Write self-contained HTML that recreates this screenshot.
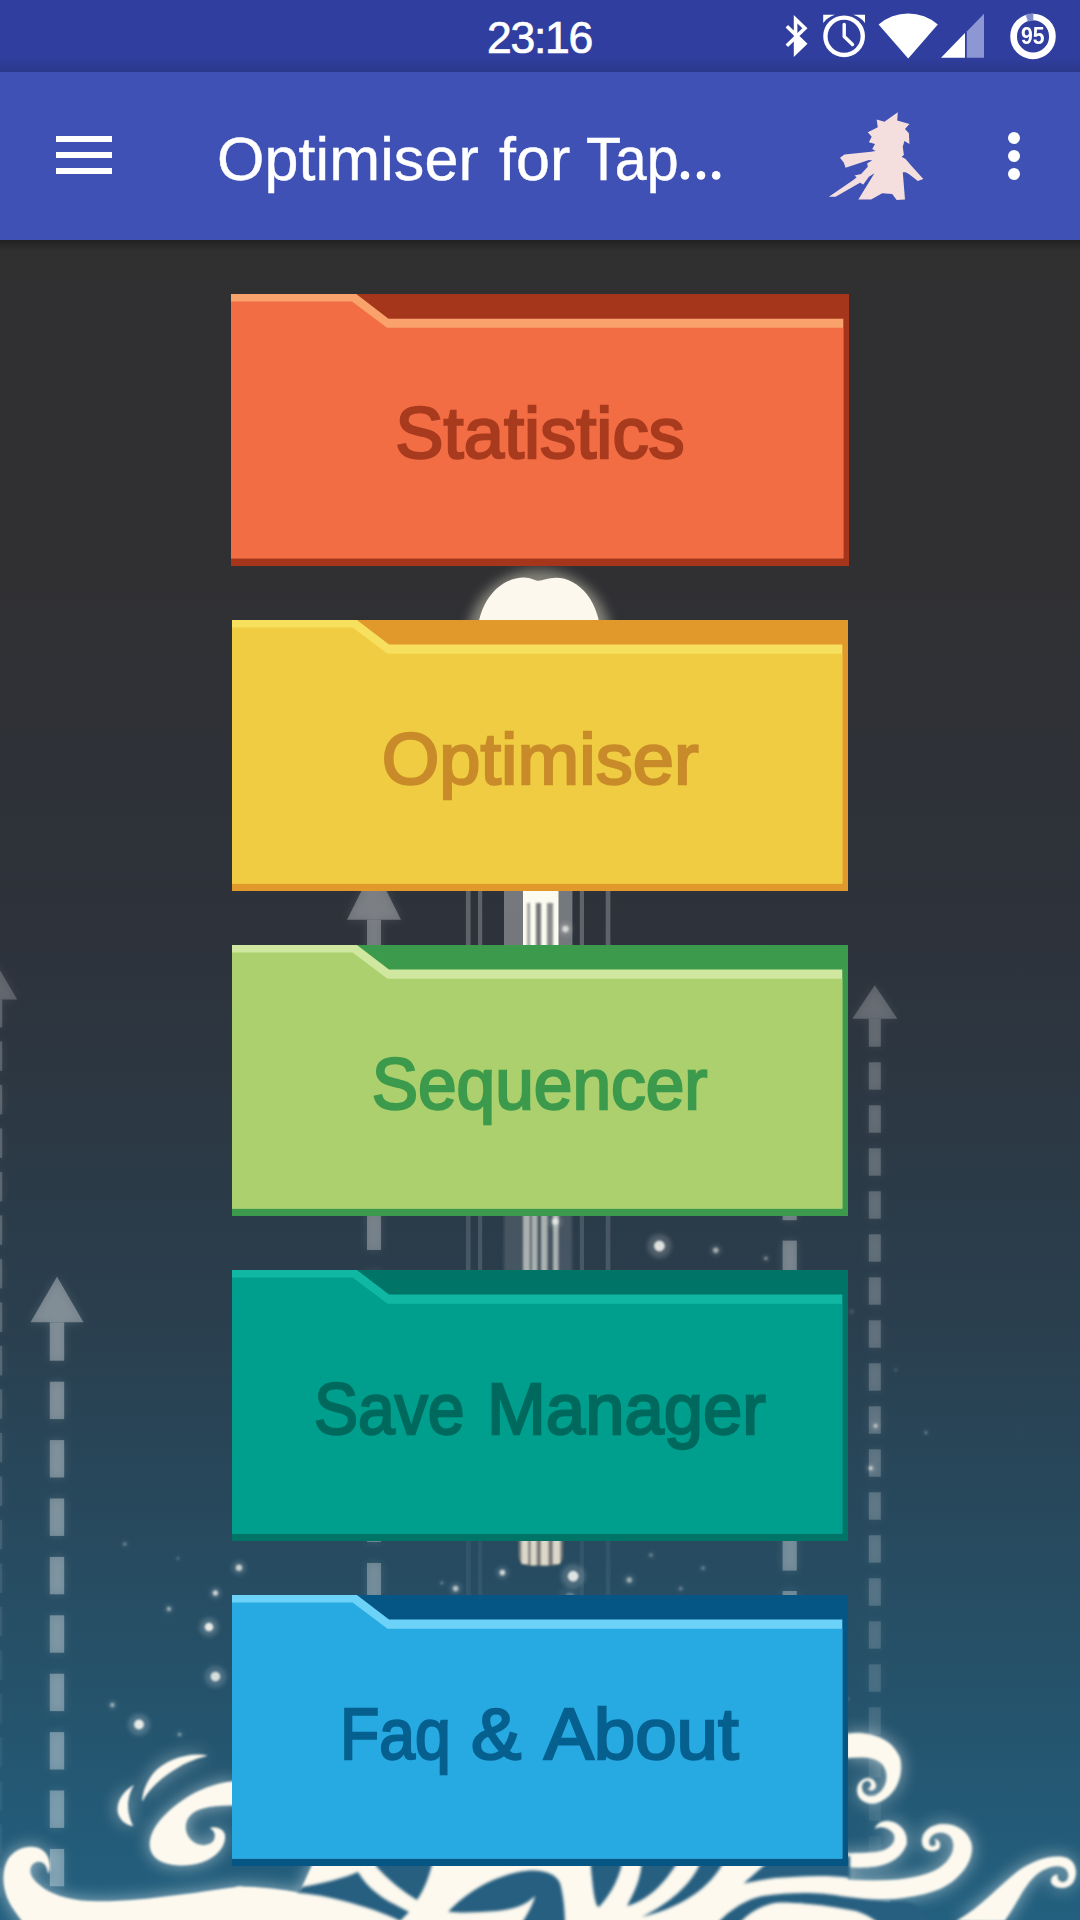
<!DOCTYPE html>
<html>
<head>
<meta charset="utf-8">
<title>Optimiser for Tap Titans</title>
<style>
html,body{margin:0;padding:0;}
body{width:1080px;height:1920px;overflow:hidden;position:relative;background:#303030;font-family:"Liberation Sans",sans-serif;}
#bg{position:absolute;left:0;top:0;width:1080px;height:1920px;}
#status{position:absolute;left:0;top:0;width:1080px;height:72px;background:#303f9f;}
#status .shade{position:absolute;left:0;top:56px;width:1080px;height:16px;background:linear-gradient(to bottom,rgba(0,0,0,0),rgba(0,0,0,0.12));}
#clock{position:absolute;left:439.5px;width:200px;top:14px;height:48px;line-height:48px;text-align:center;color:#fff;font-size:44.5px;letter-spacing:-1.3px;-webkit-text-stroke:0.7px #fff;}
#appbar{position:absolute;left:0;top:72px;width:1080px;height:168px;background:#3f51b5;}
#barshadow{position:absolute;left:0;top:240px;width:1080px;height:11px;background:linear-gradient(to bottom,rgba(0,0,0,0.30),rgba(0,0,0,0));}
#title{position:absolute;left:217px;top:120.5px;height:76px;line-height:76px;color:#fff;font-size:61px;letter-spacing:0.1px;word-spacing:3px;-webkit-text-stroke:0.45px #fff;white-space:nowrap;}
.ham{position:absolute;left:56px;width:56px;height:6px;background:#fff;}
.dot{position:absolute;left:1008px;width:12px;height:12px;border-radius:50%;background:#fff;}
.folder{position:absolute;left:231px;width:618px;height:272px;}
.folder svg{position:absolute;left:0;top:0;}
.folder .lbl{position:absolute;left:0;width:618px;top:94px;height:90px;line-height:90px;text-align:center;font-weight:normal;font-size:73px;-webkit-text-stroke:2.4px currentColor;white-space:nowrap;}
.folder .lbl span{display:inline-block;transform-origin:50% 50%;}
.folder .lbl span.w{position:absolute;top:0;transform-origin:0 50%;}
</style>
</head>
<body>
<svg id="bg" width="1080" height="1920" viewBox="0 0 1080 1920">
  <defs>
    <linearGradient id="bgg" x1="0" y1="0" x2="0" y2="1">
      <stop offset="0" stop-color="#303030"/>
      <stop offset="0.30" stop-color="#303033"/>
      <stop offset="0.50" stop-color="#2d333c"/>
      <stop offset="0.68" stop-color="#2a3e4d"/>
      <stop offset="0.85" stop-color="#264f66"/>
      <stop offset="1" stop-color="#22607f"/>
    </linearGradient>
  </defs>
  <rect x="0" y="0" width="1080" height="1920" fill="url(#bgg)"/>
  <!--BGDETAIL-->
<defs>
<filter id="blur5" x="-50%" y="-5%" width="200%" height="110%"><feGaussianBlur stdDeviation="5"/></filter>
<filter id="blur3" x="-50%" y="-50%" width="200%" height="200%"><feGaussianBlur stdDeviation="3"/></filter>
<filter id="blur8" x="-50%" y="-50%" width="200%" height="200%"><feGaussianBlur stdDeviation="9"/></filter>
<filter id="blur6" x="-50%" y="-50%" width="200%" height="200%"><feGaussianBlur stdDeviation="6"/></filter>
<filter id="blur2" x="-50%" y="-50%" width="200%" height="200%"><feGaussianBlur stdDeviation="1.8"/></filter>
<filter id="blur07" x="-100%" y="-100%" width="300%" height="300%"><feGaussianBlur stdDeviation="0.8"/></filter>
<filter id="blur1" x="-50%" y="-50%" width="200%" height="200%"><feGaussianBlur stdDeviation="1.2"/></filter>
<filter id="sblur" x="-100%" y="-100%" width="300%" height="300%"><feGaussianBlur stdDeviation="2.2"/></filter>
<linearGradient id="beamfade" x1="0" y1="0" x2="0" y2="1"><stop offset="0" stop-color="#fff" stop-opacity="1"/><stop offset="1" stop-color="#fff" stop-opacity="0.25"/></linearGradient>
</defs>
<g fill="#fff" opacity="0.077" filter="url(#blur5)"><polygon points="-4.8,962 17.2,999.4 -26.8,999.4"/><rect x="-11.8" y="999.4" width="14" height="28"/><rect x="-11.8" y="1041.4" width="14" height="29.5" opacity="1.00"/><rect x="-11.8" y="1084.9" width="14" height="29.5" opacity="1.00"/><rect x="-11.8" y="1128.4" width="14" height="29.5" opacity="1.00"/><rect x="-11.8" y="1171.9" width="14" height="29.5" opacity="1.00"/><rect x="-11.8" y="1215.4" width="14" height="29.5" opacity="1.00"/><rect x="-11.8" y="1258.9" width="14" height="29.5" opacity="1.00"/><rect x="-11.8" y="1302.4" width="14" height="29.5" opacity="1.00"/><rect x="-11.8" y="1345.9" width="14" height="29.5" opacity="0.91"/><rect x="-11.8" y="1389.4" width="14" height="29.5" opacity="0.82"/><rect x="-11.8" y="1432.9" width="14" height="29.5" opacity="0.73"/><rect x="-11.8" y="1476.4" width="14" height="29.5" opacity="0.65"/><rect x="-11.8" y="1519.9" width="14" height="29.5" opacity="0.56"/><rect x="-11.8" y="1563.4" width="14" height="29.5" opacity="0.47"/><rect x="-11.8" y="1606.9" width="14" height="29.5" opacity="0.39"/><rect x="-11.8" y="1650.4" width="14" height="29.5" opacity="0.30"/><rect x="-11.8" y="1693.9" width="14" height="29.5" opacity="0.25"/><rect x="-11.8" y="1737.4" width="14" height="29.5" opacity="0.25"/><rect x="-11.8" y="1780.9" width="14" height="29.5" opacity="0.25"/><rect x="-11.8" y="1824.4" width="14" height="29.5" opacity="0.25"/><rect x="-11.8" y="1867.9" width="14" height="29.5" opacity="0.25"/></g><g fill="#fff" opacity="0.194"><polygon points="-4.8,962 17.2,999.4 -26.8,999.4"/><rect x="-11.8" y="999.4" width="14" height="28"/><rect x="-11.8" y="1041.4" width="14" height="29.5" opacity="1.00"/><rect x="-11.8" y="1084.9" width="14" height="29.5" opacity="1.00"/><rect x="-11.8" y="1128.4" width="14" height="29.5" opacity="1.00"/><rect x="-11.8" y="1171.9" width="14" height="29.5" opacity="1.00"/><rect x="-11.8" y="1215.4" width="14" height="29.5" opacity="1.00"/><rect x="-11.8" y="1258.9" width="14" height="29.5" opacity="1.00"/><rect x="-11.8" y="1302.4" width="14" height="29.5" opacity="1.00"/><rect x="-11.8" y="1345.9" width="14" height="29.5" opacity="0.91"/><rect x="-11.8" y="1389.4" width="14" height="29.5" opacity="0.82"/><rect x="-11.8" y="1432.9" width="14" height="29.5" opacity="0.73"/><rect x="-11.8" y="1476.4" width="14" height="29.5" opacity="0.65"/><rect x="-11.8" y="1519.9" width="14" height="29.5" opacity="0.56"/><rect x="-11.8" y="1563.4" width="14" height="29.5" opacity="0.47"/><rect x="-11.8" y="1606.9" width="14" height="29.5" opacity="0.39"/><rect x="-11.8" y="1650.4" width="14" height="29.5" opacity="0.30"/><rect x="-11.8" y="1693.9" width="14" height="29.5" opacity="0.25"/><rect x="-11.8" y="1737.4" width="14" height="29.5" opacity="0.25"/><rect x="-11.8" y="1780.9" width="14" height="29.5" opacity="0.25"/><rect x="-11.8" y="1824.4" width="14" height="29.5" opacity="0.25"/><rect x="-11.8" y="1867.9" width="14" height="29.5" opacity="0.25"/></g>
<g fill="#fff" opacity="0.130" filter="url(#blur5)"><polygon points="57,1276.8 83.5,1322.3 30.5,1322.3"/><rect x="49.8" y="1322.3" width="14.4" height="38.4"/><rect x="49.8" y="1381.7" width="14.4" height="37.4" opacity="1.00"/><rect x="49.8" y="1440.1" width="14.4" height="37.4" opacity="1.00"/><rect x="49.8" y="1498.5" width="14.4" height="37.4" opacity="1.00"/><rect x="49.8" y="1556.9" width="14.4" height="37.4" opacity="1.00"/><rect x="49.8" y="1615.3" width="14.4" height="37.4" opacity="1.00"/><rect x="49.8" y="1673.7" width="14.4" height="37.4" opacity="1.00"/><rect x="49.8" y="1732.1" width="14.4" height="37.4" opacity="1.00"/><rect x="49.8" y="1790.5" width="14.4" height="37.4" opacity="1.00"/><rect x="49.8" y="1848.9" width="14.4" height="37.4" opacity="1.00"/></g><g fill="#fff" opacity="0.326"><polygon points="57,1276.8 83.5,1322.3 30.5,1322.3"/><rect x="49.8" y="1322.3" width="14.4" height="38.4"/><rect x="49.8" y="1381.7" width="14.4" height="37.4" opacity="1.00"/><rect x="49.8" y="1440.1" width="14.4" height="37.4" opacity="1.00"/><rect x="49.8" y="1498.5" width="14.4" height="37.4" opacity="1.00"/><rect x="49.8" y="1556.9" width="14.4" height="37.4" opacity="1.00"/><rect x="49.8" y="1615.3" width="14.4" height="37.4" opacity="1.00"/><rect x="49.8" y="1673.7" width="14.4" height="37.4" opacity="1.00"/><rect x="49.8" y="1732.1" width="14.4" height="37.4" opacity="1.00"/><rect x="49.8" y="1790.5" width="14.4" height="37.4" opacity="1.00"/><rect x="49.8" y="1848.9" width="14.4" height="37.4" opacity="1.00"/></g>
<g fill="#fff" opacity="0.115" filter="url(#blur5)"><polygon points="374,866 401,919.7 347,919.7"/><rect x="367" y="919.7" width="14" height="38.3"/><rect x="367" y="979.0" width="14" height="37.4" opacity="1.00"/><rect x="367" y="1037.4" width="14" height="37.4" opacity="1.00"/><rect x="367" y="1095.8" width="14" height="37.4" opacity="1.00"/><rect x="367" y="1154.2" width="14" height="37.4" opacity="1.00"/><rect x="367" y="1212.6" width="14" height="37.4" opacity="1.00"/><rect x="367" y="1271.0" width="14" height="37.4" opacity="1.00"/><rect x="367" y="1329.4" width="14" height="37.4" opacity="1.00"/><rect x="367" y="1387.8" width="14" height="37.4" opacity="1.00"/><rect x="367" y="1446.2" width="14" height="37.4" opacity="1.00"/><rect x="367" y="1504.6" width="14" height="37.4" opacity="1.00"/><rect x="367" y="1563.0" width="14" height="37.4" opacity="1.00"/></g><g fill="#fff" opacity="0.290"><polygon points="374,866 401,919.7 347,919.7"/><rect x="367" y="919.7" width="14" height="38.3"/><rect x="367" y="979.0" width="14" height="37.4" opacity="1.00"/><rect x="367" y="1037.4" width="14" height="37.4" opacity="1.00"/><rect x="367" y="1095.8" width="14" height="37.4" opacity="1.00"/><rect x="367" y="1154.2" width="14" height="37.4" opacity="1.00"/><rect x="367" y="1212.6" width="14" height="37.4" opacity="1.00"/><rect x="367" y="1271.0" width="14" height="37.4" opacity="1.00"/><rect x="367" y="1329.4" width="14" height="37.4" opacity="1.00"/><rect x="367" y="1387.8" width="14" height="37.4" opacity="1.00"/><rect x="367" y="1446.2" width="14" height="37.4" opacity="1.00"/><rect x="367" y="1504.6" width="14" height="37.4" opacity="1.00"/><rect x="367" y="1563.0" width="14" height="37.4" opacity="1.00"/></g>
<g fill="#fff" opacity="0.082" filter="url(#blur5)"><polygon points="874.8,985.2 897.3,1018.7 852.3,1018.7"/><rect x="868.8" y="1018.7" width="12" height="28"/><rect x="868.8" y="1062.3" width="12" height="27.4" opacity="1.00"/><rect x="868.8" y="1105.3" width="12" height="27.4" opacity="1.00"/><rect x="868.8" y="1148.3" width="12" height="27.4" opacity="1.00"/><rect x="868.8" y="1191.3" width="12" height="27.4" opacity="1.00"/><rect x="868.8" y="1234.3" width="12" height="27.4" opacity="1.00"/><rect x="868.8" y="1277.3" width="12" height="27.4" opacity="1.00"/><rect x="868.8" y="1320.3" width="12" height="27.4" opacity="1.00"/><rect x="868.8" y="1363.3" width="12" height="27.4" opacity="1.00"/><rect x="868.8" y="1406.3" width="12" height="27.4" opacity="1.00"/><rect x="868.8" y="1449.3" width="12" height="27.4" opacity="1.00"/><rect x="868.8" y="1492.3" width="12" height="27.4" opacity="1.00"/><rect x="868.8" y="1535.3" width="12" height="27.4" opacity="0.92"/><rect x="868.8" y="1578.3" width="12" height="27.4" opacity="0.83"/><rect x="868.8" y="1621.3" width="12" height="27.4" opacity="0.73"/><rect x="868.8" y="1664.3" width="12" height="27.4" opacity="0.63"/><rect x="868.8" y="1707.3" width="12" height="27.4" opacity="0.54"/><rect x="868.8" y="1750.3" width="12" height="27.4" opacity="0.44"/><rect x="868.8" y="1793.3" width="12" height="27.4" opacity="0.35"/><rect x="868.8" y="1836.3" width="12" height="27.4" opacity="0.25"/><rect x="868.8" y="1879.3" width="12" height="27.4" opacity="0.25"/></g><g fill="#fff" opacity="0.207"><polygon points="874.8,985.2 897.3,1018.7 852.3,1018.7"/><rect x="868.8" y="1018.7" width="12" height="28"/><rect x="868.8" y="1062.3" width="12" height="27.4" opacity="1.00"/><rect x="868.8" y="1105.3" width="12" height="27.4" opacity="1.00"/><rect x="868.8" y="1148.3" width="12" height="27.4" opacity="1.00"/><rect x="868.8" y="1191.3" width="12" height="27.4" opacity="1.00"/><rect x="868.8" y="1234.3" width="12" height="27.4" opacity="1.00"/><rect x="868.8" y="1277.3" width="12" height="27.4" opacity="1.00"/><rect x="868.8" y="1320.3" width="12" height="27.4" opacity="1.00"/><rect x="868.8" y="1363.3" width="12" height="27.4" opacity="1.00"/><rect x="868.8" y="1406.3" width="12" height="27.4" opacity="1.00"/><rect x="868.8" y="1449.3" width="12" height="27.4" opacity="1.00"/><rect x="868.8" y="1492.3" width="12" height="27.4" opacity="1.00"/><rect x="868.8" y="1535.3" width="12" height="27.4" opacity="0.92"/><rect x="868.8" y="1578.3" width="12" height="27.4" opacity="0.83"/><rect x="868.8" y="1621.3" width="12" height="27.4" opacity="0.73"/><rect x="868.8" y="1664.3" width="12" height="27.4" opacity="0.63"/><rect x="868.8" y="1707.3" width="12" height="27.4" opacity="0.54"/><rect x="868.8" y="1750.3" width="12" height="27.4" opacity="0.44"/><rect x="868.8" y="1793.3" width="12" height="27.4" opacity="0.35"/><rect x="868.8" y="1836.3" width="12" height="27.4" opacity="0.25"/><rect x="868.8" y="1879.3" width="12" height="27.4" opacity="0.25"/></g>
<g fill="#fff" opacity="0.119" filter="url(#blur5)"><polygon points="789.7,960.6 816.7,1006.6 762.7,1006.6"/><rect x="782.6" y="1006.6" width="14.2" height="38.4"/><rect x="782.6" y="1065.4" width="14.2" height="38.0" opacity="1.00"/><rect x="782.6" y="1123.8" width="14.2" height="38.0" opacity="1.00"/><rect x="782.6" y="1182.2" width="14.2" height="38.0" opacity="1.00"/><rect x="782.6" y="1240.6" width="14.2" height="38.0" opacity="1.00"/><rect x="782.6" y="1299.0" width="14.2" height="38.0" opacity="1.00"/><rect x="782.6" y="1357.4" width="14.2" height="38.0" opacity="1.00"/><rect x="782.6" y="1415.8" width="14.2" height="38.0" opacity="1.00"/><rect x="782.6" y="1474.2" width="14.2" height="38.0" opacity="1.00"/><rect x="782.6" y="1532.6" width="14.2" height="38.0" opacity="1.00"/><rect x="782.6" y="1591.0" width="14.2" height="38.0" opacity="1.00"/></g><g fill="#fff" opacity="0.299"><polygon points="789.7,960.6 816.7,1006.6 762.7,1006.6"/><rect x="782.6" y="1006.6" width="14.2" height="38.4"/><rect x="782.6" y="1065.4" width="14.2" height="38.0" opacity="1.00"/><rect x="782.6" y="1123.8" width="14.2" height="38.0" opacity="1.00"/><rect x="782.6" y="1182.2" width="14.2" height="38.0" opacity="1.00"/><rect x="782.6" y="1240.6" width="14.2" height="38.0" opacity="1.00"/><rect x="782.6" y="1299.0" width="14.2" height="38.0" opacity="1.00"/><rect x="782.6" y="1357.4" width="14.2" height="38.0" opacity="1.00"/><rect x="782.6" y="1415.8" width="14.2" height="38.0" opacity="1.00"/><rect x="782.6" y="1474.2" width="14.2" height="38.0" opacity="1.00"/><rect x="782.6" y="1532.6" width="14.2" height="38.0" opacity="1.00"/><rect x="782.6" y="1591.0" width="14.2" height="38.0" opacity="1.00"/></g>
<ellipse cx="539" cy="640" rx="72" ry="70" fill="#f4f2d8" opacity="0.42" filter="url(#blur6)"/>
<path d="M477,640 C477,600 501,577.5 524,577.5 C531,577.5 535,580.8 538.7,580.8 C542.5,580.8 548,577.8 556,577.8 C579,577.8 601,602 601,640 Z" fill="#fdf8ee"/>
<rect x="465.9" y="640" width="4.7" height="310" fill="#fff" opacity="0.24"/><rect x="478" y="640" width="4.2" height="310" fill="#fff" opacity="0.24"/><rect x="579.8" y="640" width="4.2" height="310" fill="#fff" opacity="0.24"/><rect x="605.7" y="640" width="4.7" height="310" fill="#fff" opacity="0.24"/>
<rect x="504" y="640" width="68.4" height="310" fill="#fff" opacity="0.34"/>
<rect x="523" y="640" width="35.5" height="310" fill="#fbfbf0"/>
<g filter="url(#blur1)"><rect x="527.3" y="903" width="2.7" height="50" fill="#9a9c98"/><rect x="536" y="903" width="5" height="50" fill="#74767a"/><rect x="547" y="903" width="6" height="50" fill="#8a8c8c"/></g>
<rect x="465.9" y="1205" width="4.7" height="75" fill="#fff" opacity="0.14"/><rect x="478" y="1205" width="4.2" height="75" fill="#fff" opacity="0.14"/><rect x="579.8" y="1205" width="4.2" height="75" fill="#fff" opacity="0.14"/><rect x="605.7" y="1205" width="4.7" height="75" fill="#fff" opacity="0.14"/>
<rect x="504" y="1205" width="68" height="75" fill="#fff" opacity="0.13" filter="url(#blur2)"/>
<g filter="url(#blur1)" fill="#c3c7c3" opacity="0.8"><rect x="523" y="1205" width="7" height="75"/><rect x="531.5" y="1205" width="6" height="75"/><rect x="541" y="1205" width="6.5" height="75"/><rect x="553" y="1205" width="5.5" height="75"/></g>
<rect x="465.9" y="1530" width="4.7" height="70" fill="#fff" opacity="0.06"/><rect x="478" y="1530" width="4.2" height="70" fill="#fff" opacity="0.06"/><rect x="579.8" y="1530" width="4.2" height="70" fill="#fff" opacity="0.06"/><rect x="605.7" y="1530" width="4.7" height="70" fill="#fff" opacity="0.06"/>
<g filter="url(#blur07)"><path d="M518.7,1525 L563,1525 L563,1556 Q563,1565.5 553,1565.5 L528.7,1565.5 Q518.7,1565.5 518.7,1556 Z" fill="#7d7e7a"/><g fill="#dcd8c9"><rect x="521.5" y="1525" width="6.5" height="39"/><rect x="530.7" y="1525" width="5.8" height="40.5"/><rect x="541" y="1525" width="7.3" height="40.5"/><rect x="553" y="1525" width="7" height="39"/></g></g>
<g fill="#fff"><circle cx="565.5" cy="929" r="7.2" opacity="0.14" filter="url(#sblur)"/><circle cx="565.5" cy="929" r="3.2" opacity="0.74" fill="#f6f6f0" filter="url(#blur07)"/><circle cx="555.2" cy="1221.5" r="7.2" opacity="0.14" filter="url(#sblur)"/><circle cx="555.2" cy="1221.5" r="3.2" opacity="0.74" fill="#f6f6f0" filter="url(#blur07)"/><circle cx="659.4" cy="1246" r="12.0" opacity="0.17" filter="url(#sblur)"/><circle cx="659.4" cy="1246" r="5.4" opacity="0.87" fill="#f6f6f0" filter="url(#blur07)"/><circle cx="715.8" cy="1250.3" r="6.0" opacity="0.11" filter="url(#sblur)"/><circle cx="715.8" cy="1250.3" r="2.7" opacity="0.55" fill="#f6f6f0" filter="url(#blur07)"/><circle cx="765.9" cy="1258.3" r="3.6" opacity="0.09" filter="url(#sblur)"/><circle cx="765.9" cy="1258.3" r="1.6" opacity="0.46" fill="#f6f6f0" filter="url(#blur07)"/><circle cx="502.4" cy="1572.6" r="6.2" opacity="0.15" filter="url(#sblur)"/><circle cx="502.4" cy="1572.6" r="2.8" opacity="0.78" fill="#f6f6f0" filter="url(#blur07)"/><circle cx="573.2" cy="1576.2" r="12.0" opacity="0.17" filter="url(#sblur)"/><circle cx="573.2" cy="1576.2" r="5.4" opacity="0.87" fill="#f6f6f0" filter="url(#blur07)"/><circle cx="455.6" cy="1588.6" r="6.2" opacity="0.13" filter="url(#sblur)"/><circle cx="455.6" cy="1588.6" r="2.8" opacity="0.64" fill="#f6f6f0" filter="url(#blur07)"/><circle cx="629.3" cy="1580" r="6.0" opacity="0.10" filter="url(#sblur)"/><circle cx="629.3" cy="1580" r="2.7" opacity="0.51" fill="#f6f6f0" filter="url(#blur07)"/><circle cx="651" cy="1555" r="3.6" opacity="0.07" filter="url(#sblur)"/><circle cx="651" cy="1555" r="1.6" opacity="0.37" fill="#f6f6f0" filter="url(#blur07)"/><circle cx="703" cy="1568" r="3.6" opacity="0.07" filter="url(#sblur)"/><circle cx="703" cy="1568" r="1.6" opacity="0.37" fill="#f6f6f0" filter="url(#blur07)"/><circle cx="680.7" cy="1588.5" r="3.6" opacity="0.07" filter="url(#sblur)"/><circle cx="680.7" cy="1588.5" r="1.6" opacity="0.37" fill="#f6f6f0" filter="url(#blur07)"/><circle cx="441.9" cy="1583" r="2.9" opacity="0.07" filter="url(#sblur)"/><circle cx="441.9" cy="1583" r="1.3" opacity="0.37" fill="#f6f6f0" filter="url(#blur07)"/><circle cx="215.4" cy="1593" r="6.0" opacity="0.14" filter="url(#sblur)"/><circle cx="215.4" cy="1593" r="2.7" opacity="0.74" fill="#f6f6f0" filter="url(#blur07)"/><circle cx="168.9" cy="1609" r="4.8" opacity="0.10" filter="url(#sblur)"/><circle cx="168.9" cy="1609" r="2.2" opacity="0.51" fill="#f6f6f0" filter="url(#blur07)"/><circle cx="209" cy="1627" r="9.6" opacity="0.18" filter="url(#sblur)"/><circle cx="209" cy="1627" r="4.3" opacity="0.92" fill="#f6f6f0" filter="url(#blur07)"/><circle cx="215.4" cy="1676.6" r="10.8" opacity="0.16" filter="url(#sblur)"/><circle cx="215.4" cy="1676.6" r="4.9" opacity="0.83" fill="#f6f6f0" filter="url(#blur07)"/><circle cx="112.4" cy="1705" r="4.8" opacity="0.10" filter="url(#sblur)"/><circle cx="112.4" cy="1705" r="2.2" opacity="0.51" fill="#f6f6f0" filter="url(#blur07)"/><circle cx="139" cy="1724.5" r="10.8" opacity="0.18" filter="url(#sblur)"/><circle cx="139" cy="1724.5" r="4.9" opacity="0.92" fill="#f6f6f0" filter="url(#blur07)"/><circle cx="179.6" cy="1734.4" r="3.6" opacity="0.09" filter="url(#sblur)"/><circle cx="179.6" cy="1734.4" r="1.6" opacity="0.46" fill="#f6f6f0" filter="url(#blur07)"/><circle cx="239" cy="1567.8" r="7.2" opacity="0.14" filter="url(#sblur)"/><circle cx="239" cy="1567.8" r="3.2" opacity="0.74" fill="#f6f6f0" filter="url(#blur07)"/><circle cx="124.8" cy="1544" r="3.6" opacity="0.07" filter="url(#sblur)"/><circle cx="124.8" cy="1544" r="1.6" opacity="0.37" fill="#f6f6f0" filter="url(#blur07)"/><circle cx="178" cy="1558.5" r="2.4" opacity="0.07" filter="url(#sblur)"/><circle cx="178" cy="1558.5" r="1.1" opacity="0.37" fill="#f6f6f0" filter="url(#blur07)"/><circle cx="895.8" cy="1370" r="2.4" opacity="0.05" filter="url(#sblur)"/><circle cx="895.8" cy="1370" r="1.1" opacity="0.28" fill="#f6f6f0" filter="url(#blur07)"/><circle cx="875.6" cy="1425.8" r="4.3" opacity="0.13" filter="url(#sblur)"/><circle cx="875.6" cy="1425.8" r="1.9" opacity="0.64" fill="#f6f6f0" filter="url(#blur07)"/><circle cx="926" cy="1432.7" r="3.1" opacity="0.06" filter="url(#sblur)"/><circle cx="926" cy="1432.7" r="1.4" opacity="0.32" fill="#f6f6f0" filter="url(#blur07)"/><circle cx="870.8" cy="1468.2" r="4.3" opacity="0.14" filter="url(#sblur)"/><circle cx="870.8" cy="1468.2" r="1.9" opacity="0.74" fill="#f6f6f0" filter="url(#blur07)"/><circle cx="851.7" cy="1311.6" r="4.8" opacity="0.02" filter="url(#sblur)"/><circle cx="851.7" cy="1311.6" r="2.2" opacity="0.11" fill="#f6f6f0" filter="url(#blur07)"/><circle cx="848" cy="1699" r="2.4" opacity="0.05" filter="url(#sblur)"/><circle cx="848" cy="1699" r="1.1" opacity="0.28" fill="#f6f6f0" filter="url(#blur07)"/><circle cx="570" cy="1598" r="12.0" opacity="0.05" filter="url(#sblur)"/><circle cx="570" cy="1598" r="5.4" opacity="0.28" fill="#f6f6f0" filter="url(#blur07)"/></g>
<g fill="#ffffff" opacity="0.55" filter="url(#blur8)"><g transform="translate(120,1740) scale(0.22222)"><path d="M395,70 C310,52 200,90 150,150 C115,195 100,240 100,278 C130,220 190,165 260,125 C310,95 360,80 395,70 Z"/><path d="M63,202 C10,230 -25,290 -5,340 C8,370 35,385 60,388 C40,350 30,300 40,260 C45,235 55,215 63,202 Z"/><path d="M520,185 C400,195 290,250 200,340 C140,400 115,470 150,520 C190,570 290,575 370,550 C430,530 480,480 472,425 C465,400 430,385 403,397 C425,405 435,430 420,455 C400,480 350,480 320,450 C290,420 285,370 320,335 C360,300 430,295 520,295 Z"/></g><g transform="translate(0,1560) scale(0.22222)"><path d="M1090,1468 C1000,1480 900,1495 800,1508 C650,1528 520,1540 400,1535 C300,1530 225,1500 185,1468 C150,1440 130,1415 138,1385 C147,1355 185,1348 203,1372 C213,1386 213,1400 218,1412 C232,1380 225,1330 190,1305 C150,1278 80,1288 40,1340 C0,1400 10,1500 60,1570 C80,1600 100,1625 110,1640 L1090,1640 Z"/></g><g transform="translate(840,1700) scale(0.22222)"><path d="M30,150 C120,140 230,160 270,260 C290,340 250,440 160,465 C100,475 65,430 80,385 C95,345 150,335 162,380 C165,405 140,415 125,400 C140,395 145,375 130,365 C110,360 95,380 100,400 C105,430 140,440 165,425 C210,400 225,330 190,290 C160,255 100,255 30,262 Z"/><path d="M30,752 C150,760 260,750 300,650 C310,590 260,540 200,545 C175,548 160,565 158,580 C180,565 215,570 240,600 C260,640 220,680 150,685 C100,690 60,688 30,690 Z"/><path d="M-20,895 C150,905 330,900 450,850 C560,800 610,700 590,640 C570,575 500,550 440,560 C390,570 360,610 370,650 C378,680 420,690 445,670 C460,650 445,625 425,625 C435,640 432,655 420,658 C400,660 395,635 410,615 C430,590 480,590 500,620 C530,670 490,740 420,770 C300,820 150,815 -20,805 Z"/><path d="M520,995 C640,930 720,830 800,770 C870,720 960,690 1020,710 C1060,725 1075,780 1050,820 C1030,850 980,855 955,830 C940,810 955,785 980,785 C975,800 985,820 1005,820 C1030,815 1035,780 1015,760 C985,735 920,750 870,800 C820,850 790,930 740,995 Z"/></g><path d="M316,1856 L848,1856 L848,1901 L890,1901 L890,1926 L236,1926 L236,1886.4 C260,1886.5 285,1889.5 300,1893 L302,1887 Z"/></g>
<g fill="#fdf9ef" filter="url(#blur1)"><g transform="translate(120,1740) scale(0.22222)"><path d="M395,70 C310,52 200,90 150,150 C115,195 100,240 100,278 C130,220 190,165 260,125 C310,95 360,80 395,70 Z"/><path d="M63,202 C10,230 -25,290 -5,340 C8,370 35,385 60,388 C40,350 30,300 40,260 C45,235 55,215 63,202 Z"/><path d="M520,185 C400,195 290,250 200,340 C140,400 115,470 150,520 C190,570 290,575 370,550 C430,530 480,480 472,425 C465,400 430,385 403,397 C425,405 435,430 420,455 C400,480 350,480 320,450 C290,420 285,370 320,335 C360,300 430,295 520,295 Z"/></g><g transform="translate(0,1560) scale(0.22222)"><path d="M1090,1468 C1000,1480 900,1495 800,1508 C650,1528 520,1540 400,1535 C300,1530 225,1500 185,1468 C150,1440 130,1415 138,1385 C147,1355 185,1348 203,1372 C213,1386 213,1400 218,1412 C232,1380 225,1330 190,1305 C150,1278 80,1288 40,1340 C0,1400 10,1500 60,1570 C80,1600 100,1625 110,1640 L1090,1640 Z"/></g><g transform="translate(840,1700) scale(0.22222)"><path d="M30,150 C120,140 230,160 270,260 C290,340 250,440 160,465 C100,475 65,430 80,385 C95,345 150,335 162,380 C165,405 140,415 125,400 C140,395 145,375 130,365 C110,360 95,380 100,400 C105,430 140,440 165,425 C210,400 225,330 190,290 C160,255 100,255 30,262 Z"/><path d="M30,752 C150,760 260,750 300,650 C310,590 260,540 200,545 C175,548 160,565 158,580 C180,565 215,570 240,600 C260,640 220,680 150,685 C100,690 60,688 30,690 Z"/><path d="M-20,895 C150,905 330,900 450,850 C560,800 610,700 590,640 C570,575 500,550 440,560 C390,570 360,610 370,650 C378,680 420,690 445,670 C460,650 445,625 425,625 C435,640 432,655 420,658 C400,660 395,635 410,615 C430,590 480,590 500,620 C530,670 490,740 420,770 C300,820 150,815 -20,805 Z"/><path d="M520,995 C640,930 720,830 800,770 C870,720 960,690 1020,710 C1060,725 1075,780 1050,820 C1030,850 980,855 955,830 C940,810 955,785 980,785 C975,800 985,820 1005,820 C1030,815 1035,780 1015,760 C985,735 920,750 870,800 C820,850 790,930 740,995 Z"/></g><path d="M316,1856 L848,1856 L848,1901 L890,1901 L890,1926 L236,1926 L236,1886.4 C260,1886.5 285,1889.5 300,1893 L302,1887 Z"/></g>
<g fill="#265f80" filter="url(#blur2)"><path d="M302,1887 C320,1884 345,1878 358,1872 C363,1880 369,1889 388,1901 L409,1912 L400,1921 C385,1913 364,1906 340,1900 C320,1895 305,1893 298,1893 Z"/><path d="M376,1856 L434,1856 C430,1875 424,1890 417,1900 C405,1893 388,1880 376,1866 Z"/><path d="M448.3,1911.8 C465,1893.7 494,1874.4 527.8,1870.8 C544.6,1869.6 556.7,1874.4 560.3,1884 C563.9,1898.5 565,1913 565,1926 L520,1926 C530,1910.6 533.8,1902 535,1896 C525.4,1905.7 513.3,1909.4 496.5,1911 C479.6,1912.5 460.4,1913 448.3,1911.8 Z"/><path d="M590.8,1856 L623.3,1856 C621,1875 612,1893 599,1907 C595,1907 593,1890 590.8,1866 Z"/><path d="M641.4,1856 L681,1856 C668,1880 650,1900 627,1906 C634,1893 640,1880 641.4,1866 Z"/><path d="M699,1856 L726.8,1856 C715,1882 690,1905 642,1917 C670,1903 690,1885 699,1866 Z"/><path d="M743.7,1883.6 C755,1873 765,1866 772,1856 L850,1856 L850,1878 C830,1875 800,1876 775,1878 C760,1880 750,1882 743.7,1883.6 Z"/><path d="M715,1926 C730,1908 750,1898 763,1896 C790,1892 820,1892 840,1896 C860,1899 885,1901 905,1901.5 C915,1903 925,1910 934,1930 L886,1930 C872,1916 860,1911 848,1909.5 C825,1905 800,1902.5 780,1902.5 C765,1903 748,1912 737,1926 Z"/></g>
<!--/BGDETAIL-->
</svg>

<div id="status"><div class="shade"></div></div>
<div id="clock">23:16</div>
<svg id="sicons" style="position:absolute;left:760px;top:0" width="320" height="72" viewBox="760 0 320 72">
  <!-- bluetooth -->
  <g fill="none" stroke="#fff" stroke-width="3.6" stroke-linejoin="miter" stroke-linecap="butt">
    <path d="M786.8,26.2 L804.9,43.8 L795.6,52.7 L795.6,19.3 L804.9,28.2 L786.8,45.8"/>
  </g>
  <path d="M795.6,37 L804.9,43.8 L795.6,52.7 Z" fill="#fff"/>
  <!-- alarm -->
  <circle cx="844.1" cy="36.3" r="18.7" fill="none" stroke="#fff" stroke-width="4.4"/>
  <path d="M844.2,24.5 L844.2,36.5 L852.5,44.5" fill="none" stroke="#fff" stroke-width="3.4" stroke-linecap="round" stroke-linejoin="round"/>
  <path d="M823.2,23 L823.2,14.8 L835,14.8 Q827,17.5 823.2,23 Z" fill="#fff"/>
  <path d="M865,23 L865,14.8 L853.2,14.8 Q861.2,17.5 865,23 Z" fill="#fff"/>
  <!-- wifi -->
  <path d="M908.2,58.6 L878.6,24.6 A45,45 0 0 1 937.8,24.6 Z" fill="#fff"/>
  <!-- cell -->
  <path d="M966.8,57.8 L966.8,31.6 L984,13.8 L984,57.8 Z" fill="#8d97d3"/>
  <path d="M941,57.8 L965,33 L965,57.8 Z" fill="#fff"/>
  <!-- battery -->
  <circle cx="1033" cy="36.4" r="19.4" fill="none" stroke="#fff" stroke-width="6.7"/>
  <path d="M1033,17 L1033,13.7 A22.7,22.7 0 0 0 1026,14.8 L1028.1,21.2 A16,16 0 0 1 1033,20.4 Z" fill="#7f8bcb" stroke="#7f8bcb" stroke-width="0.6"/>
</svg>
<div id="batt" style="position:absolute;left:1013px;top:24px;width:40px;height:24px;line-height:24px;text-align:center;color:#fff;font-weight:bold;font-size:23px;"><span style="display:inline-block;transform:scaleX(0.92)">95</span></div>
<div id="appbar"></div>
<div id="barshadow"></div>
<div class="ham" style="top:136px"></div>
<div class="ham" style="top:152px"></div>
<div class="ham" style="top:168px"></div>
<div id="title">Optimiser for <span style="display:inline-block;transform:scaleX(0.94);transform-origin:0 50%;margin-left:-4px">Tap</span></div>
<svg style="position:absolute;left:676px;top:166px" width="50" height="20" viewBox="676 166 50 20"><g fill="#fff"><circle cx="685" cy="175.4" r="4.3"/><circle cx="701" cy="175.4" r="4.3"/><circle cx="716.2" cy="175.4" r="4.3"/></g></svg>
<svg id="hero" style="position:absolute;left:820px;top:100px" width="120" height="110" viewBox="0 0 1080 990"><polygon points="700,110 695,185 805,215 765,260 800,300 805,395 760,370 745,420 755,495 735,510 770,530 830,600 930,710 880,730 800,665 770,650 745,650 765,895 690,900 650,845 560,840 460,895 345,895 490,660 440,690 390,760 360,745 140,870 80,870 300,720 330,695 310,680 370,665 430,600 425,570 470,545 440,540 230,610 215,565 180,520 220,490 460,465 500,460 470,440 495,395 440,380 465,330 430,290 520,245 510,175 580,195" fill="#f4dede"/></svg>
<div class="dot" style="top:132px"></div>
<div class="dot" style="top:150px"></div>
<div class="dot" style="top:168px"></div>

<!--FOLDERS-->
<div class="folder" id="f1" style="left:231px;top:294px;width:618px;height:272px;color:#a83a1e">
<svg width="618" height="272" viewBox="0 0 618 272"><rect x="0" y="0" width="618" height="272" fill="#a5361b"/><polygon points="0.0,0.0 125.3,0.0 157.5,24.7 612.3,24.7 612.3,264.3 0.0,264.3" fill="#f9a26b"/><polygon points="0.0,7.4 121.0,7.4 156.0,33.8 612.3,33.8 612.3,264.3 0.0,264.3" fill="#f26d44"/></svg>
<div class="lbl" style="width:618px"><span style="transform:scaleX(0.991)">Statistics</span></div>
</div>
<div class="folder" id="f2" style="left:232px;top:620px;width:616px;height:271.3px;color:#c98b2a">
<svg width="616" height="271.3" viewBox="0 0 616 271.3"><rect x="0" y="0" width="616" height="271.3" fill="#e2992c"/><polygon points="0.0,0.0 124.9,0.0 157.0,24.6 610.3,24.6 610.3,263.4 0.0,263.4" fill="#f7e05e"/><polygon points="0.0,7.4 120.6,7.4 155.5,33.7 610.3,33.7 610.3,263.4 0.0,263.4" fill="#efcc41"/></svg>
<div class="lbl" style="width:616px"><span style="transform:scaleX(1.0145)">Optimiser</span></div>
</div>
<div class="folder" id="f3" style="left:232px;top:945px;width:616px;height:271.3px;color:#3c9a4c">
<svg width="616" height="271.3" viewBox="0 0 616 271.3"><rect x="0" y="0" width="616" height="271.3" fill="#3c9a4c"/><polygon points="0.0,0.0 124.9,0.0 157.0,24.6 610.3,24.6 610.3,263.4 0.0,263.4" fill="#cfe79e"/><polygon points="0.0,7.4 120.6,7.4 155.5,33.7 610.3,33.7 610.3,263.4 0.0,263.4" fill="#abd06d"/></svg>
<div class="lbl" style="width:616px"><span style="transform:scaleX(0.951)">Sequencer</span></div>
</div>
<div class="folder" id="f4" style="left:232px;top:1270px;width:616px;height:271.3px;color:#00695d">
<svg width="616" height="271.3" viewBox="0 0 616 271.3"><rect x="0" y="0" width="616" height="271.3" fill="#007567"/><polygon points="0.0,0.0 124.9,0.0 157.0,24.6 610.3,24.6 610.3,263.4 0.0,263.4" fill="#10b8a3"/><polygon points="0.0,7.4 120.6,7.4 155.5,33.7 610.3,33.7 610.3,263.4 0.0,263.4" fill="#009e8c"/></svg>
<div class="lbl" style="width:616px"><span class="w" style="left:81.5px;transform:scaleX(0.905)">Save</span><span class="w" style="left:255px;transform:scaleX(0.968)">Manager</span></div>
</div>
<div class="folder" id="f5" style="left:232px;top:1595px;width:616px;height:271.3px;color:#06608f">
<svg width="616" height="271.3" viewBox="0 0 616 271.3"><rect x="0" y="0" width="616" height="271.3" fill="#055585"/><polygon points="0.0,0.0 124.9,0.0 157.0,24.6 610.3,24.6 610.3,263.4 0.0,263.4" fill="#6dd2f7"/><polygon points="0.0,7.4 120.6,7.4 155.5,33.7 610.3,33.7 610.3,263.4 0.0,263.4" fill="#27aae1"/></svg>
<div class="lbl" style="width:616px"><span class="w" style="left:107.5px;transform:scaleX(0.881)">Faq</span><span class="w" style="left:239.3px;transform:scaleX(1.034)">&amp;</span><span class="w" style="left:312px;transform:scaleX(1.021)">About</span></div>
</div>
</body>
</html>
